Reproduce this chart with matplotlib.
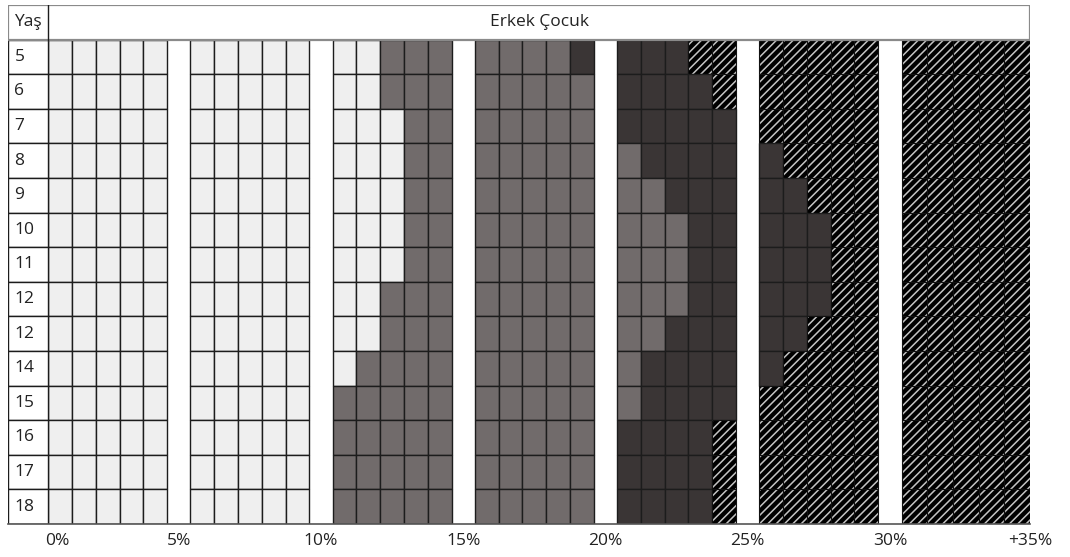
import numpy as np
import matplotlib.pyplot as plt
from matplotlib.patches import Rectangle

plt.rcParams['font.family'] = ['Open Sans', 'DejaVu Sans']
plt.rcParams['hatch.linewidth'] = 1.1

# ages (row labels, kept as printed: "12" appears twice)
ages = ['5', '6', '7', '8', '9', '10', '11', '12', '12', '14', '15', '16', '17', '18']
# number of 1% cells in each shade, per age row (35 cells = 0% .. 35%)
light_cells = [12, 12, 13, 13, 13, 13, 13, 12, 12, 11, 10, 10, 10, 10]
medium_cells = [7, 8, 7, 8, 9, 10, 10, 11, 10, 10, 11, 10, 10, 10]
dark_cells = [4, 4, 5, 5, 5, 5, 5, 5, 5, 5, 4, 4, 4, 4]
hatched_cells = [12, 11, 10, 9, 8, 7, 7, 7, 8, 9, 10, 11, 11, 11]
tick_labels = ['0%', '5%', '10%', '15%', '20%', '25%', '30%', '+35%']
title = 'Erkek Çocuk'

shade_colors = ['#efefef', '#716b6b', '#3a3535', '#000000']
line_color = '#1c1c1c'

# column layout: groups of 5 cells separated by a white gap
cell_w = [1.0] * 30 + [1.08] * 5
gap = 0.98
lefts = []
x = 0.0
for i, w in enumerate(cell_w):
    if i and i % 5 == 0:
        x += gap
    lefts.append(x)
    x += w
x_end = x
label_w = 1.68
n_rows = len(ages)

fig = plt.figure(figsize=(10.7, 5.57), dpi=100)
ax = fig.add_axes([8.3 / 1070, 1 - 524 / 557, (1030 - 8.3) / 1070, (524 - 5) / 557])
ax.set_xlim(-label_w, x_end)
ax.set_ylim(n_rows, -1)
ax.axis('off')

for r in range(n_rows):
    shades = np.repeat([0, 1, 2, 3], [light_cells[r], medium_cells[r], dark_cells[r], hatched_cells[r]])
    for k in range(4):
        cols = np.where(shades == k)[0]
        if len(cols) == 0:
            continue
        xs = [lefts[c] for c in cols]
        ws = [cell_w[c] for c in cols]
        if k == 3:
            ax.barh(r, ws, left=xs, height=1, align='edge', color=shade_colors[k],
                    edgecolor='#c4c4c4', hatch='////', linewidth=0)
            ax.barh(r, ws, left=xs, height=1, align='edge', fill=False,
                    edgecolor='#111111', linewidth=0.8)
        else:
            ax.barh(r, ws, left=xs, height=1, align='edge', color=shade_colors[k],
                    edgecolor=line_color, linewidth=1.0)
    # age label cell
    ax.add_patch(Rectangle((-label_w, r), label_w, 1, facecolor='white',
                           edgecolor=line_color, linewidth=1.0))
    ax.text(-label_w + 0.26, r + 0.5, ages[r], ha='left', va='center',
            fontsize=12.5, color='#222222')

# header
ax.add_patch(Rectangle((-label_w, -1), label_w + x_end, 1, facecolor='white',
                       edgecolor='#8a8a8a', linewidth=1.6))
ax.plot([0, 0], [-1, 0], color=line_color, linewidth=1.0)
ax.text(-label_w + 0.26, -0.5, 'Yaş', ha='left', va='center', fontsize=12.5, color='#222222')
ax.text(x_end / 2, -0.5, title, ha='center', va='center', fontsize=12.5, color='#222222')

# bottom rule
ax.plot([-label_w, x_end], [n_rows, n_rows], color='#555555', linewidth=1.2, clip_on=False)

# percentage labels
tick_pos = [0.4] + [lefts[5 * k] - gap / 2 for k in range(1, 7)] + [x_end]
for p, t in zip(tick_pos, tick_labels):
    ax.text(p, n_rows + 0.5, t, ha='center', va='center', fontsize=12.5,
            color='#222222', clip_on=False)

fig.savefig('out.png', dpi=100, facecolor='white')
